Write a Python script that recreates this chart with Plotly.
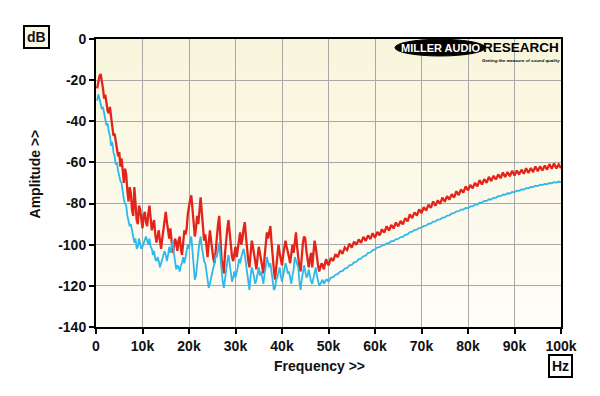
import numpy as np
import plotly.graph_objects as go

# Frequency grid (Hz): 0.25 kHz steps up to 50k, 0.5 kHz steps from 50.5k to 100k
freq_hz = np.concatenate([np.arange(250, 50001, 250), np.arange(50500, 100001, 500)])

red_db = [
    # 0.25k - 5k
    -24, -21, -18, -17, -20, -24, -29, -27, -31, -35, -36, -33, -38, -44, -47, -46, -50, -53, -57, -55,
    # 5.25k - 10k
    -62, -58, -66, -70, -63, -66, -74, -79, -72, -75, -83, -86, -72, -80, -88, -90, -81, -83, -89, -92,
    # 10.25k - 15k
    -86, -84, -89, -91, -85, -81, -87, -93, -90, -88, -95, -99, -96, -93, -98, -102, -97, -92, -88, -84,
    # 15.25k - 20k
    -89, -94, -97, -92, -100, -104, -101, -97, -99, -103, -98, -96, -102, -105, -99, -93, -95, -92, -85, -80,
    # 20.25k - 25k
    -78, -76, -84, -91, -96, -92, -86, -90, -81, -77, -84, -92, -98, -95, -102, -106, -99, -93, -98, -104,
    # 25.25k - 30k
    -107, -109, -101, -94, -90, -86, -95, -107, -110, -114, -104, -97, -92, -88, -95, -101, -106, -108, -104, -101,
    # 30.25k - 35k
    -106, -102, -98, -94, -100, -97, -92, -89, -96, -103, -108, -111, -102, -98, -101, -105, -109, -112, -106, -101,
    # 35.25k - 40k
    -104, -108, -111, -114, -106, -100, -94, -97, -93, -91, -99, -107, -112, -117, -110, -105, -100, -104, -107, -110,
    # 40.25k - 45k
    -105, -102, -98, -101, -103, -106, -109, -105, -100, -104, -97, -94, -101, -107, -111, -113, -105, -99, -96, -97,
    # 45.25k - 50k
    -103, -108, -111, -107, -104, -111, -103, -98, -101, -107, -110, -113, -111, -109, -110, -112, -109, -107, -109, -110,
    # 50.5k - 100k (0.5k steps)
    -106.5, -107.9, -104.6, -106.1, -102.6, -104.4, -101.3, -102.6, -99.5, -101.4,
    -98.5, -100.1, -97.4, -99.1, -96.2, -98.1, -95.5, -97.3, -94.4, -96.6,
    -93.8, -95.4, -92.5, -94.1, -91.0, -93.1, -90.4, -92.1, -89.2, -91.1,
    -88.4, -90.1, -87.1, -88.6, -85.3, -87.1, -84.3, -85.9, -82.8, -84.6,
    -81.8, -83.4, -80.5, -82.1, -79.0, -81.1, -78.4, -80.1, -77.1, -79.1,
    -76.4, -78.1, -75.4, -77.1, -74.0, -75.9, -73.1, -74.7, -71.6, -73.6,
    -70.9, -72.6, -69.9, -71.6, -68.6, -70.7, -68.1, -69.9, -67.0, -69.1,
    -66.5, -68.3, -65.8, -67.7, -64.9, -67.1, -64.7, -66.7, -64.0, -66.3,
    -63.9, -65.9, -63.5, -65.5, -62.8, -65.1, -62.7, -64.7, -62.0, -64.3,
    -61.9, -63.9, -61.5, -63.5, -60.8, -63.1, -60.5, -62.9, -61.0, -62.8,
]

blue_db = [
    # 0.25k - 5k
    -30, -27, -29, -31, -34, -33, -37, -39, -42, -41, -45, -47, -52, -50, -55, -57, -61, -60, -64, -67,
    # 5.25k - 10k
    -69, -70, -75, -78, -80, -81, -86, -88, -91, -90, -94, -96, -99, -97, -102, -101, -97, -99, -102, -101,
    # 10.25k - 15k
    -99, -98, -96, -98, -100, -97, -101, -102, -105, -103, -107, -108, -106, -108, -111, -109, -107, -106, -103, -105,
    # 15.25k - 20k
    -108, -105, -101, -104, -100, -98, -104, -109, -112, -110, -111, -113, -110, -109, -106, -109, -105, -103, -100, -102,
    # 20.25k - 25k
    -98, -96, -103, -109, -117, -115, -108, -104, -99, -96, -101, -105, -108, -109, -113, -115, -121, -119, -116, -114,
    # 25.25k - 30k
    -111, -109, -105, -106, -101, -99, -106, -113, -118, -121, -116, -113, -108, -105, -109, -113, -118, -116, -113, -116,
    # 30.25k - 35k
    -114, -111, -107, -109, -106, -104, -102, -105, -109, -113, -119, -122, -115, -111, -113, -116, -119, -117, -113, -111,
    # 35.25k - 40k
    -115, -113, -116, -119, -114, -111, -106, -108, -111, -109, -114, -118, -122, -121, -117, -116, -113, -111, -115, -118,
    # 40.25k - 45k
    -115, -111, -109, -111, -114, -113, -117, -119, -115, -112, -106, -108, -110, -111, -118, -122, -117, -113, -110, -113,
    # 45.25k - 50k
    -116, -115, -112, -115, -118, -119, -116, -113, -111, -115, -118, -120, -119, -118, -117, -119, -118, -117, -117, -118,
    # 50.5k - 100k (0.5k steps)
    -116.0, -115.8, -114.6, -114.3, -113.0, -112.8, -111.6, -111.3, -110.0, -109.8,
    -108.6, -108.3, -107.0, -106.8, -105.6, -105.3, -104.0, -103.8, -102.6, -102.3,
    -101.3, -101.2, -100.3, -100.2, -99.3, -99.2, -98.3, -98.2, -97.3, -97.2,
    -96.3, -96.2, -95.2, -95.0, -93.9, -93.7, -92.8, -92.7, -91.8, -91.7,
    -90.8, -90.7, -89.8, -89.7, -88.8, -88.7, -87.8, -87.7, -86.8, -86.7,
    -85.8, -85.7, -84.8, -84.7, -83.8, -83.7, -82.9, -82.9, -82.1, -82.2,
    -81.4, -81.4, -80.5, -80.5, -79.6, -79.6, -78.7, -78.7, -77.9, -78.0,
    -77.2, -77.2, -76.4, -76.4, -75.7, -75.7, -75.0, -75.1, -74.3, -74.4,
    -73.7, -73.8, -73.1, -73.2, -72.5, -72.6, -71.9, -72.0, -71.3, -71.5,
    -70.8, -71.0, -70.4, -70.6, -70.0, -70.2, -69.6, -69.8, -69.3, -69.6,
]

x_tick_vals = [0, 10000, 20000, 30000, 40000, 50000, 60000, 70000, 80000, 90000, 100000]
x_tick_text = ["0", "10k", "20k", "30k", "40k", "50k", "60k", "70k", "80k", "90k", "100k"]
y_tick_vals = [0, -20, -40, -60, -80, -100, -120, -140]
y_tick_text = ["0", "-20", "-40", "-60", "-80", "-100", "-120", "-140"]

RED = "#E3241B"
BLUE = "#2FB8EA"
FONT = "Liberation Sans"
TXT = "#111111"

fig = go.Figure()
fig.add_trace(go.Scatter(x=freq_hz, y=red_db, mode="lines",
                         line=dict(color=RED, width=2.3), showlegend=False))
fig.add_trace(go.Scatter(x=freq_hz, y=blue_db, mode="lines",
                         line=dict(color=BLUE, width=1.8), showlegend=False))

axis_common = dict(
    showline=True, linecolor="black", linewidth=2, mirror=True,
    showgrid=True, gridcolor="#A8A8A8", gridwidth=1,
    ticks="outside", ticklen=5, tickwidth=1.5, tickcolor="black",
    tickfont=dict(family=FONT, size=14, color=TXT, weight="bold"),
    zeroline=False, automargin=False,
)

fig.update_xaxes(range=[0, 100000], tickvals=x_tick_vals, ticktext=x_tick_text, **axis_common)
fig.update_yaxes(range=[-140, 0], tickvals=y_tick_vals, ticktext=y_tick_text, **axis_common)

# page body has an 8px margin, so the figure is 8px smaller than the window
fig.update_layout(
    width=592, height=388,
    margin=dict(l=88, r=39, t=31, b=69),
    paper_bgcolor="white",
    plot_bgcolor="#FBF8E8",
    font=dict(family=FONT),
)

# Soft vertical background gradient (cream at top to near-white at bottom)
top_rgb = (249, 245, 220)
bot_rgb = (254, 253, 246)
n_bands = 16
for i in range(n_bands):
    t = i / (n_bands - 1)
    c = tuple(int(round(top_rgb[k] + (bot_rgb[k] - top_rgb[k]) * t)) for k in range(3))
    fig.add_shape(type="rect", xref="paper", yref="paper", layer="below",
                  x0=0, x1=1, y0=1 - (i + 1) / n_bands, y1=1 - i / n_bands,
                  fillcolor="rgb(%d,%d,%d)" % c, line=dict(width=0))

# Logo
fig.add_shape(type="circle", xref="paper", yref="paper",
              x0=0.643, x1=0.837, y0=0.941, y1=0.999,
              fillcolor="black", line=dict(color="black", width=1))
fig.add_annotation(xref="paper", yref="paper", x=0.741, y=0.970, xanchor="center", yanchor="middle",
                   text="MILLER AUDIO", showarrow=False,
                   font=dict(family=FONT, size=11, color="white", weight="bold"))
fig.add_annotation(xref="paper", yref="paper", x=0.914, y=0.970, xanchor="center", yanchor="middle",
                   text="RESEARCH", showarrow=False,
                   font=dict(family=FONT, size=13.5, color="black", weight="bold"))
fig.add_annotation(xref="paper", yref="paper", x=0.913, y=0.925, xanchor="center", yanchor="middle",
                   text="<i>Getting the measure of sound quality</i>", showarrow=False,
                   font=dict(family=FONT, size=4.4, color="black", weight="bold"))

# Axis titles / unit boxes
fig.add_annotation(xref="paper", yref="paper", x=0.48, y=-0.135, xanchor="center", yanchor="middle",
                   text="Frequency >>", showarrow=False,
                   font=dict(family=FONT, size=14, color=TXT, weight="bold"))
fig.add_annotation(xref="paper", yref="paper", x=-0.131, y=0.53, xanchor="center", yanchor="middle",
                   text="Amplitude >>", showarrow=False, textangle=-90,
                   font=dict(family=FONT, size=14, color=TXT, weight="bold"))
fig.add_annotation(xref="paper", yref="paper", x=-0.129, y=1.007, xanchor="center", yanchor="middle",
                   text="dB", showarrow=False,
                   bgcolor="#FAF7E5", bordercolor="black", borderwidth=2, borderpad=2,
                   font=dict(family=FONT, size=14, color=TXT, weight="bold"))
fig.add_annotation(xref="paper", yref="paper", x=0.998, y=-0.135, xanchor="center", yanchor="middle",
                   text="Hz", showarrow=False,
                   bgcolor="white", bordercolor="black", borderwidth=2, borderpad=2,
                   font=dict(family=FONT, size=14, color=TXT, weight="bold"))

fig.write_html("out.html")
